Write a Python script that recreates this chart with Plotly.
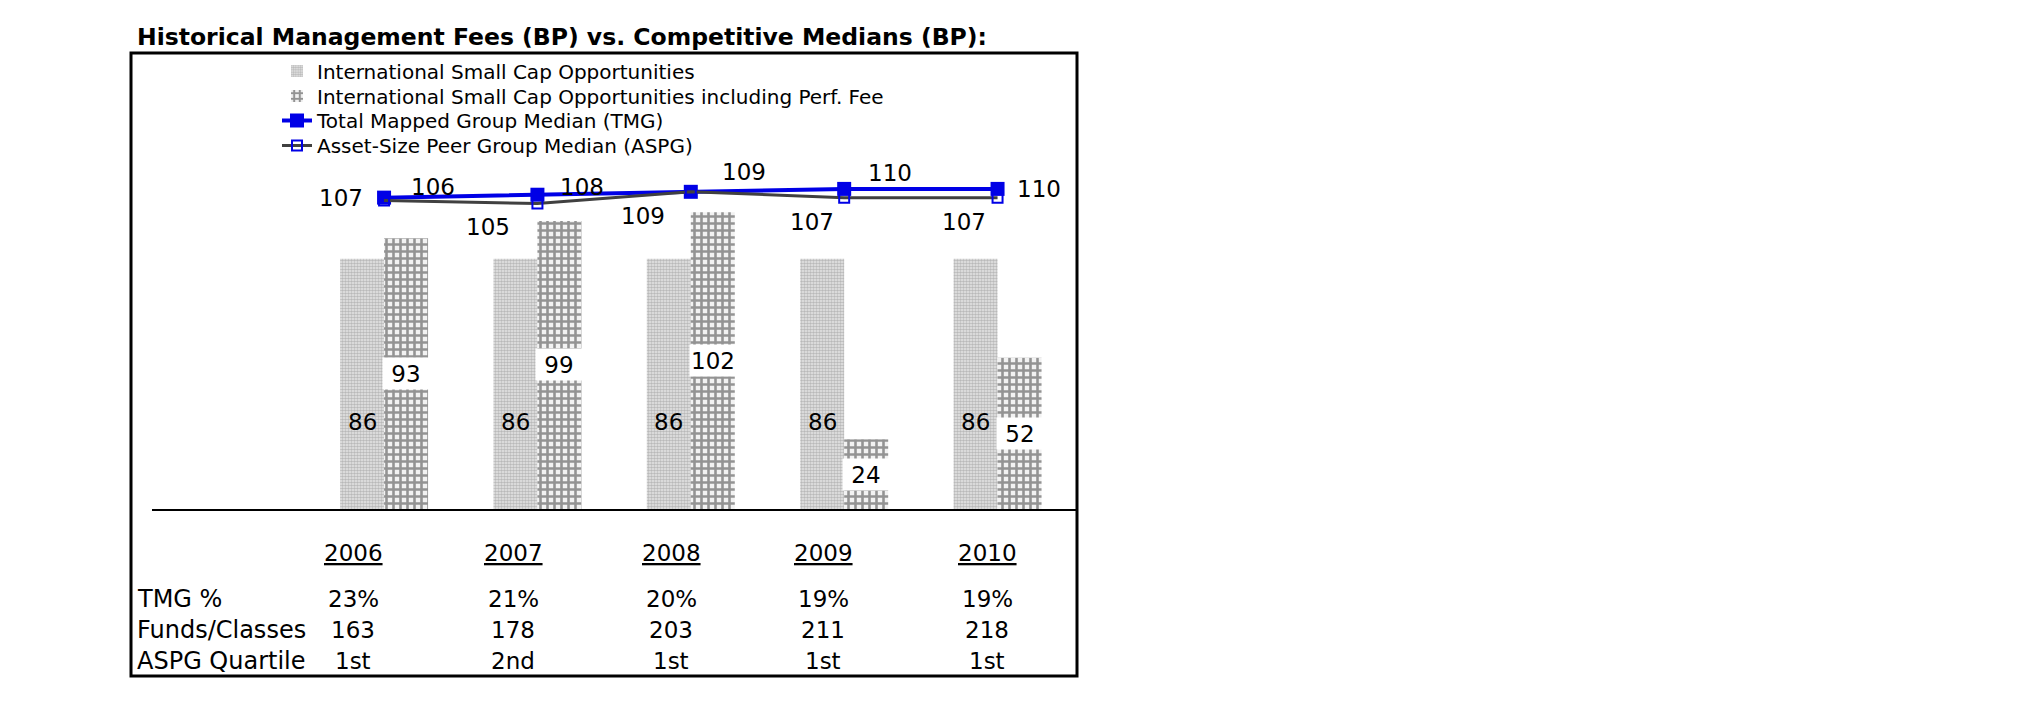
import plotly.graph_objects as go

# ---------------- data ----------------
years = ["2006", "2007", "2008", "2009", "2010"]
fee_fund = [86, 86, 86, 86, 86]
fee_fund_perf = [93, 99, 102, 24, 52]
tmg_median = [107, 108, 109, 110, 110]
aspg_median = [106, 105, 109, 107, 107]

row_labels = ["TMG %", "Funds/Classes", "ASPG Quartile"]
tmg_pct = ["23%", "21%", "20%", "19%", "19%"]
funds_classes = ["163", "178", "203", "211", "218"]
aspg_quartile = ["1st", "2nd", "1st", "1st", "1st"]

series_names = [
    "International Small Cap Opportunities",
    "International Small Cap Opportunities including Perf. Fee",
    "Total Mapped Group Median (TMG)",
    "Asset-Size Peer Group Median (ASPG)",
]
title_text = "Historical Management Fees (BP) vs. Competitive Medians (BP):"

# ---------------- styles / layout (pixels, in screen coords) ----------------
FIG_W, FIG_H = 2025, 717
PAGE_MARGIN = 8          # default body margin of the html page
SL, SR, ST, SB = 152, 1077, 52, 509   # plot area on screen
L, R, T, B = SL - PAGE_MARGIN, SR - PAGE_MARGIN, ST - PAGE_MARGIN, SB - PAGE_MARGIN
PW, PH = R - L, B - T
PX_PER_BP = 2.91
Y_MAX = PH / PX_PER_BP
X_RANGE = [-1.513, 4.518]
BAR_PX = 44

FONT = "DejaVu Sans"
BLUE = "#0000e6"
GREY_LINE = "#404040"

# label offsets (px) relative to each point: (dx, dy) with dy positive = up
tmg_label_shift = [(-43, 0), (45, 8), (53, 20), (46, 16), (41, 0)]
aspg_label_shift = [(49, 14), (-49, -24), (-48, -24), (-32, -24), (-34, -24)]
# table geometry (screen px)
table_cols_px = [353, 513, 671, 823, 987]
year_row_px = 553
table_rows_px = [599, 630, 661]
table_left_px = 135
legend_rows_px = [71, 96, 120.5, 145.5]
legend_left_px = 277


def px(xp):
    return (xp - PAGE_MARGIN - L) / PW


def py(yp):
    return (B - (yp - PAGE_MARGIN)) / PH


fig = go.Figure()

legend_ids = ["legend", "legend2", "legend3", "legend4"]

fig.add_trace(go.Bar(
    x=years, y=fee_fund, name=series_names[0], legend=legend_ids[0],
    marker=dict(color="#e0e0e0", line=dict(width=0),
                pattern=dict(shape=".", fgcolor="#8c8c8c", bgcolor="#e6e6e6",
                             size=3, solidity=0.55)),
    hoverinfo="skip",
))
fig.add_trace(go.Bar(
    x=years, y=fee_fund_perf, name=series_names[1], legend=legend_ids[1],
    marker=dict(color="#ffffff", line=dict(width=0),
                pattern=dict(shape="+", fgcolor="#333333", bgcolor="#f2f2f2",
                             size=7, solidity=0.6)),
    hoverinfo="skip",
))
fig.add_trace(go.Scatter(
    x=years, y=tmg_median, name=series_names[2], mode="lines+markers",
    legend=legend_ids[2],
    line=dict(color=BLUE, width=4),
    marker=dict(symbol="square", size=14, color=BLUE),
    hoverinfo="skip",
))
fig.add_trace(go.Scatter(
    x=years, y=aspg_median, name=series_names[3], mode="lines+markers",
    legend=legend_ids[3],
    line=dict(color=GREY_LINE, width=3),
    marker=dict(symbol="square-open", size=10, color=BLUE,
                line=dict(color=BLUE, width=2)),
    hoverinfo="skip",
))

annotations = []
LABEL_FONT = dict(family=FONT, size=23, color="black")

# bar labels (x given as category index)
for i, v in enumerate(fee_fund):
    annotations.append(dict(x=i, y=v / 2, xref="x", yref="y", text=str(v),
                            showarrow=False, xshift=-BAR_PX / 2, yshift=-38,
                            font=LABEL_FONT))
for i, v in enumerate(fee_fund_perf):
    annotations.append(dict(x=i, y=v / 2, xref="x", yref="y", text=str(v),
                            showarrow=False, xshift=BAR_PX / 2, yshift=0,
                            font=LABEL_FONT, bgcolor="white",
                            width=BAR_PX, height=29))
# line labels
for i, (v, (dx, dy)) in enumerate(zip(tmg_median, tmg_label_shift)):
    annotations.append(dict(x=i, y=v, xref="x", yref="y", text=str(v),
                            showarrow=False, xshift=dx, yshift=dy, font=LABEL_FONT))
for i, (v, (dx, dy)) in enumerate(zip(aspg_median, aspg_label_shift)):
    annotations.append(dict(x=i, y=v, xref="x", yref="y", text=str(v),
                            showarrow=False, xshift=dx, yshift=dy, font=LABEL_FONT))

# title
annotations.append(dict(x=px(table_left_px), y=py(37), xref="paper", yref="paper",
                        text="<b>" + title_text + "</b>", showarrow=False,
                        xanchor="left", yanchor="middle",
                        font=dict(family=FONT, size=23.5, color="black")))

# table
TABLE_FONT = dict(family=FONT, size=24, color="black")
YEAR_FONT = dict(family=FONT, size=23, color="black")
for cx, yr in zip(table_cols_px, years):
    annotations.append(dict(x=px(cx), y=py(year_row_px), xref="paper", yref="paper",
                            text="<u>" + yr + "</u>", showarrow=False,
                            xanchor="center", yanchor="middle", font=YEAR_FONT))
for ry, lab, vals in zip(table_rows_px, row_labels,
                         [tmg_pct, funds_classes, aspg_quartile]):
    annotations.append(dict(x=px(table_left_px), y=py(ry), xref="paper", yref="paper",
                            text=lab, showarrow=False, xanchor="left",
                            yanchor="middle", font=TABLE_FONT))
    for cx, val in zip(table_cols_px, vals):
        annotations.append(dict(x=px(cx), y=py(ry), xref="paper", yref="paper",
                                text=val, showarrow=False, xanchor="center",
                                yanchor="middle", font=YEAR_FONT))

shapes = [dict(type="rect", xref="paper", yref="paper",
               x0=px(131), x1=px(1077), y0=py(676), y1=py(53),
               line=dict(color="black", width=3), fillcolor="rgba(0,0,0,0)")]

legend_layout = {}
for lid, ry in zip(legend_ids, legend_rows_px):
    legend_layout[lid] = dict(
        x=px(legend_left_px), y=py(ry), xanchor="left", yanchor="middle",
        font=dict(family=FONT, size=20, color="black"),
        bgcolor="rgba(0,0,0,0)", borderwidth=0,
        itemclick=False, itemdoubleclick=False)

fig.update_layout(
    width=FIG_W, height=FIG_H,
    margin=dict(l=L, r=FIG_W - R, t=T, b=FIG_H - B, pad=0),
    paper_bgcolor="white", plot_bgcolor="white",
    barmode="group", bargap=1 - 2 * BAR_PX / (PW / (X_RANGE[1] - X_RANGE[0])),
    bargroupgap=0,
    showlegend=True,
    xaxis=dict(type="category", range=X_RANGE, showticklabels=False,
               showgrid=False, zeroline=False, showline=True,
               linecolor="black", linewidth=2, ticks=""),
    yaxis=dict(range=[0, Y_MAX], visible=False, showgrid=False, zeroline=False),
    annotations=annotations,
    shapes=shapes,
    font=dict(family=FONT),
    **legend_layout,
)

fig.write_html("out.html")
